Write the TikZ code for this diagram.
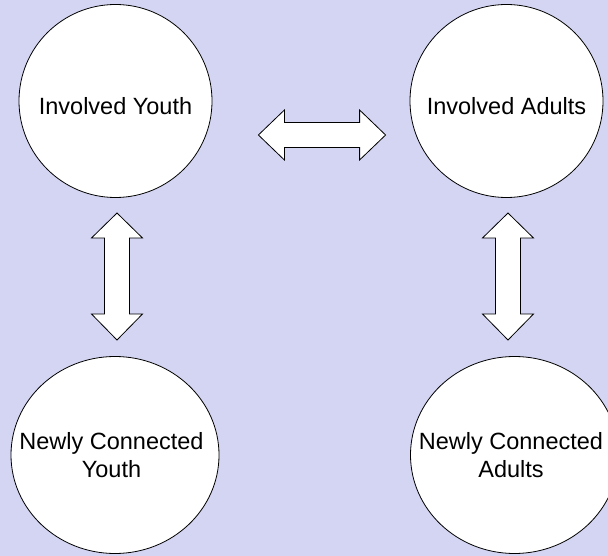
\documentclass[tikz,border=0pt]{standalone}
\usepackage{fontspec}
\setmainfont{Liberation Sans}
\usetikzlibrary{shapes.geometric,calc}
\definecolor{bgcol}{RGB}{211,213,242}
\newcommand\zline[1]{\makebox[0pt]{\hbox{\kern-7pt #1}}}
\begin{document}
\begin{tikzpicture}[x=1pt,y=-1pt,
  txt/.style={font=\fontsize{23.5}{28.3}\selectfont,align=center},
  bubble/.style={circle,draw=black,line width=0.8pt,fill=white,inner sep=0pt,minimum size=193pt,txt},
  oval/.style={ellipse,draw=black,line width=0.8pt,fill=white,inner sep=0pt,minimum width=208pt,minimum height=197pt,txt},
  blockarrow/.style={draw=black,line width=0.8pt,fill=white,line join=miter}]
\fill[bgcol] (0,0) rectangle (608,556);
\useasboundingbox (0,0) rectangle (608,556);
\node[bubble,text height=26.5pt] (iy) at (115.5,101) {Involved Youth};
\node[bubble,text height=26.5pt] (ia) at (506.5,101) {Involved Adults};
\node[oval] (ny) at (115,455) {\zline{Newly Connected}\\\zline{Youth}};
\node[oval] (na) at (514.5,455) {\zline{Newly Connected}\\\zline{Adults}};
% arrow tips
\coordinate (h1) at ($(iy.east)+(46,34)$);
\coordinate (h2) at ($(ia.west)+(-24,34)$);
\coordinate (v1) at (117,213);
\coordinate (v2) at (117,340);
\coordinate (v3) at (508,213);
\coordinate (v4) at (508,340);
% horizontal double arrow
\draw[blockarrow] (h1) -- ++(26,-25) -- ++(0,12.5) -- ($(h2)+(-26,-12.5)$) -- ++(0,-12.5)
  -- (h2) -- ++(-26,25) -- ++(0,-12.5) -- ($(h1)+(26,12.5)$) -- ++(0,12.5) -- cycle;
% vertical double arrows
\draw[blockarrow] (v1) -- ++(25.5,25) -- ++(-13,0) -- ($(v2)+(12.5,-26)$) -- ++(13,0)
  -- (v2) -- ++(-25.5,-26) -- ++(13,0) -- ($(v1)+(-12.5,25)$) -- ++(-13,0) -- cycle;
\draw[blockarrow] (v3) -- ++(25.5,25) -- ++(-13,0) -- ($(v4)+(12.5,-26)$) -- ++(13,0)
  -- (v4) -- ++(-25.5,-26) -- ++(13,0) -- ($(v3)+(-12.5,25)$) -- ++(-13,0) -- cycle;
\end{tikzpicture}
\end{document}
